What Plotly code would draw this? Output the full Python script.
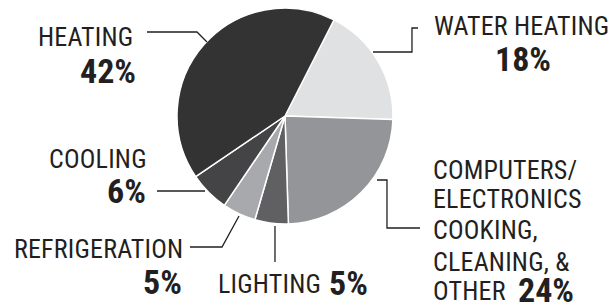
import plotly.graph_objects as go

W, H = 616, 305

categories = ["WATER HEATING", "COMPUTERS/ ELECTRONICS COOKING, CLEANING, & OTHER",
              "LIGHTING", "REFRIGERATION", "COOLING", "HEATING"]
values = [18, 24, 5, 5, 6, 42]
percent_labels = ["18%", "24%", "5%", "5%", "6%", "42%"]
colors = ["#e0e1e3", "#939598", "#606062", "#a8a9ac", "#444446", "#333333"]

TXT = "#231f20"
FONT = "Roboto Condensed, Roboto, sans-serif"
REG = 26
BOLD = 34
LS = "letter-spacing:0.2px"


def px(x, y):
    return x / W, 1 - y / H


fig = go.Figure()

cx, cy, r = 285, 116, 108
fig.add_trace(go.Pie(
    labels=categories, values=values, sort=False, direction="clockwise", rotation=27,
    marker=dict(colors=colors, line=dict(color="white", width=1.5)),
    textinfo="none", hoverinfo="skip", showlegend=False,
    domain=dict(x=[(cx - r) / W, (cx + r) / W], y=[1 - (cy + r) / H, 1 - (cy - r) / H]),
))


def label(text, x, y, anchor, bold=False):
    ax, ay = px(x, y)
    if bold:
        t = "<b>" + text + "</b>"
        f = dict(family=FONT, size=BOLD, color=TXT)
    else:
        t = '<span style="%s">%s</span>' % (LS, text)
        f = dict(family=FONT, size=REG, color=TXT)
    fig.add_annotation(x=ax, y=ay, xref="paper", yref="paper", text=t, showarrow=False,
                       xanchor=anchor, yanchor="middle", font=f)


# Heating
label(categories[5], 135, 37, "right")
label(percent_labels[5], 138, 71, "right", bold=True)
# Water heating
label(categories[0], 432, 26, "left")
label(percent_labels[0], 523, 59, "center", bold=True)
# Computers etc.
comp_lines = ["COMPUTERS/", "ELECTRONICS", "COOKING,", "CLEANING, &", "OTHER"]
for ln, yy in zip(comp_lines, [170, 199, 230, 262, 291]):
    label(ln, 431, yy, "left")
label(percent_labels[1], 516, 290, "left", bold=True)
# Lighting
label(categories[2], 216, 284, "left")
label(percent_labels[2], 327, 283, "left", bold=True)
# Refrigeration
label(categories[3], 185, 249, "right")
label(percent_labels[3], 184, 282, "right", bold=True)
# Cooling
label(categories[4], 149, 159, "right")
label(percent_labels[4], 148, 191, "right", bold=True)

# leader lines
leaders = [
    [(147, 32), (197, 32), (207, 42)],
    [(373, 52), (412, 52), (412, 28), (418, 28)],
    [(377, 180), (387, 180), (387, 228), (420, 228)],
    [(275, 226), (275, 262)],
    [(190, 247), (222, 247), (239, 216)],
    [(157, 191), (205, 191)],
]
for pts in leaders:
    path = "M " + " L ".join("%.4f,%.4f" % px(x, y) for x, y in pts)
    fig.add_shape(type="path", path=path, xref="paper", yref="paper",
                  line=dict(color=TXT, width=1.3))

fig.update_layout(width=W, height=H, margin=dict(l=0, r=0, t=0, b=0),
                  paper_bgcolor="white", plot_bgcolor="white",
                  xaxis=dict(visible=False), yaxis=dict(visible=False))
fig.write_html("out.html", config={"displayModeBar": False})

with open("out.html", encoding="utf-8") as fh:
    html = fh.read()
html = html.replace("<body>", '<body style="margin:0;overflow:hidden">', 1)
with open("out.html", "w", encoding="utf-8") as fh:
    fh.write(html)
